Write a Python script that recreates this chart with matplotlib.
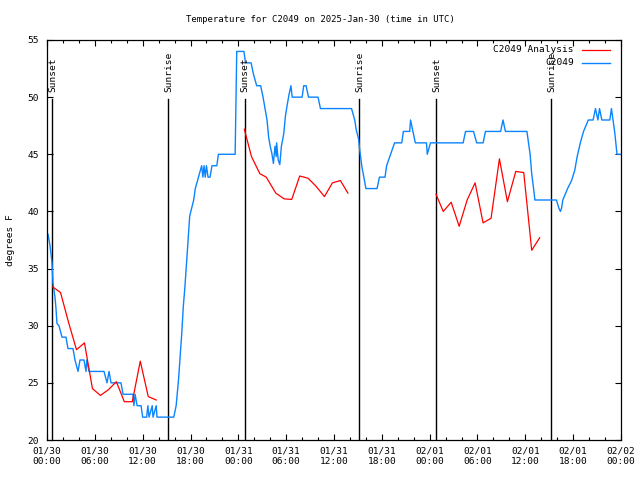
import numpy as np
import matplotlib
matplotlib.use("Agg")
import matplotlib.pyplot as plt
from matplotlib.ticker import MultipleLocator, FixedLocator

plt.rcParams['font.family'] = ['DejaVu Sans Mono']
plt.rcParams['font.size'] = 6.8

# observations (hours since 2025-01-30 00:00 UTC, deg F)
obs_hours = [0.13, 0.38, 0.63, 0.75, 1.0, 1.13, 1.25, 1.5, 1.88, 2.38, 2.63, 3.26, 3.51, 3.89,
             4.14, 4.64, 4.89, 5.0, 5.27, 7.15, 7.53, 7.78, 8.03, 9.28, 9.54, 10.79, 10.9,
             11.05, 11.3, 11.8, 12.0, 12.5, 12.65, 12.8, 13.2, 13.3, 13.7, 13.8, 15.9, 16.2,
             16.5, 16.7, 16.9, 17.1, 17.3, 17.5, 17.7, 17.9, 18.4, 18.6, 19.0, 19.4, 19.55,
             19.7, 19.85, 20.0, 20.2, 20.45, 20.7, 21.3, 21.5, 23.6, 23.8, 24.7, 24.9, 25.6,
             25.9, 26.3, 26.8, 27.1, 27.3, 27.6, 27.8, 28.0, 28.2, 28.4, 28.6, 28.75, 28.8,
             29.0, 29.2, 29.4, 29.7, 29.9, 30.1, 30.35, 30.6, 30.75, 32.0, 32.2, 32.5, 32.8,
             34.0, 34.3, 38.2, 38.6, 38.8, 39.1, 39.2, 39.5, 39.8, 40.0, 41.4, 41.7, 42.4,
             42.6, 43.1, 43.6, 44.5, 44.7, 45.5, 45.6, 45.9, 46.2, 47.6, 47.7, 48.1, 52.2,
             52.5, 53.5, 53.9, 54.7, 55.0, 56.9, 57.2, 57.5, 60.2, 60.4, 60.6, 60.8, 61.0,
             61.2, 63.9, 64.2, 64.4, 64.55, 64.7, 65.3, 65.8, 66.2, 66.5, 66.9, 67.3, 67.9,
             68.5, 68.8, 69.1, 69.3, 69.6, 70.6, 70.8, 71.0, 71.2, 71.5, 71.9]
obs_temps = [38.0, 37.0, 35.5, 33.7, 32.5, 31.5, 30.2, 30, 29, 29, 28, 28, 27, 26,
             27, 27, 26, 27, 26, 26, 25, 26, 25, 25, 24, 24, 23,
             24, 23, 23, 22, 22, 23, 22, 23, 22, 23, 22, 22, 23,
             25.3, 27.3, 29.3, 31.7, 33.4, 35.5, 37.5, 39.6, 41, 42, 43, 44, 43,
             44, 43, 44, 43, 43, 44, 44, 45, 45, 54, 54, 53, 53,
             52, 51, 51, 50, 49.2, 48, 46.5, 45.7, 45.1, 44.2, 45.7, 44.8, 46,
             44.5, 44.1, 45.7, 46.8, 48.3, 49.2, 50.2, 51, 50, 50, 51, 51, 50,
             50, 49, 49, 48, 47.1, 46.3, 45.5, 43.9, 42.8, 42, 42, 43, 43,
             44, 45, 46, 46, 47, 47, 48, 47, 46, 46, 45, 46, 46,
             47, 47, 46, 46, 47, 47, 48, 47, 47, 46, 45, 43.3, 42.2,
             41, 41, 40.3, 40, 40.3, 41, 42, 42.7, 43.6, 44.8, 46, 47, 48,
             48, 49, 48, 49, 48, 48, 49, 48, 47, 45, 45]

# analysis (gaps marked with nan)
ana_hours = [0.7, 1.7, 2.7, 3.7, 4.7, 5.7, 6.7, 7.7, 8.7, 9.7, 10.7, 11.7, 12.7, 13.7,
             19.0,
             24.75, 25.65, 26.7, 27.5, 28.7, 29.75, 30.7, 31.7, 32.75, 33.75, 34.8, 35.8,
             36.8, 37.75,
             43.0,
             48.8, 49.7, 50.7, 51.7, 52.7, 53.7, 54.7, 55.7, 56.75, 57.75, 58.8, 59.8,
             60.8, 61.8]
ana_temps = [33.4, 32.9, 30.3, 27.9, 28.5, 24.5, 23.9, 24.4, 25.1, 23.35, 23.35, 26.9, 23.8, 23.5,
             np.nan,
             47.2, 44.8, 43.3, 43.0, 41.6, 41.1, 41.05, 43.1, 42.9, 42.2, 41.3, 42.5,
             42.7, 41.6,
             np.nan,
             41.5, 40.0, 40.8, 38.7, 41.0, 42.5, 39.0, 39.4, 44.6, 40.85, 43.5, 43.4,
             36.6, 37.7]

sun_hours = [0.66, 15.2, 24.78, 39.19, 48.85, 63.28]
sun_labels = ['Sunset', 'Sunrise', 'Sunset', 'Sunrise', 'Sunset', 'Sunrise']

tick_hours = list(range(0, 73, 6))
tick_labels = ['01/30\n00:00', '01/30\n06:00', '01/30\n12:00', '01/30\n18:00',
               '01/31\n00:00', '01/31\n06:00', '01/31\n12:00', '01/31\n18:00',
               '02/01\n00:00', '02/01\n06:00', '02/01\n12:00', '02/01\n18:00',
               '02/02\n00:00']

red = '#ff0000'
blue = '#0a84ff'

fig = plt.figure(figsize=(6.4, 4.8), dpi=100)
ax = fig.add_axes([47 / 640, 40 / 480, 574 / 640, 400 / 480])

for h, lab in zip(sun_hours, sun_labels):
    ax.plot([h, h], [20, 49.83], color='black', lw=1.0, zorder=1)
    ax.text(h + 0.1, 50.45, lab, rotation=90, ha='center', va='bottom', fontsize=6.8)

ax.plot(ana_hours, ana_temps, color=red, lw=0.9, zorder=3)
ax.plot(obs_hours, obs_temps, color=blue, lw=1.0, zorder=2)

# legend drawn by hand so labels right-align like the original
ax.text(0.918, 0.975, 'C2049 Analysis', transform=ax.transAxes, ha='right', va='center')
ax.text(0.918, 0.9425, 'C2049', transform=ax.transAxes, ha='right', va='center')
ax.plot([0.932, 0.981], [0.975, 0.975], transform=ax.transAxes, color=red, lw=0.9)
ax.plot([0.932, 0.981], [0.9425, 0.9425], transform=ax.transAxes, color=blue, lw=1.0)

ax.set_xlim(0, 72)
ax.set_ylim(20, 55)
ax.xaxis.set_major_locator(FixedLocator(tick_hours))
ax.set_xticklabels(tick_labels)
ax.xaxis.set_minor_locator(MultipleLocator(2))
ax.yaxis.set_major_locator(MultipleLocator(5))
ax.tick_params(which='both', direction='in', top=True, right=True, width=0.8)
ax.tick_params(which='major', length=4, pad=5)
ax.tick_params(axis='y', which='major', length=4, pad=6)
ax.tick_params(which='minor', length=2)
for s in ax.spines.values():
    s.set_linewidth(0.9)

ax.set_ylabel('degrees F', labelpad=9)
fig.text(0.5, 1 - 19 / 480, 'Temperature for C2049 on 2025-Jan-30 (time in UTC)',
         ha='center', va='center', fontsize=6.5)

fig.savefig('out.png', dpi=100)
